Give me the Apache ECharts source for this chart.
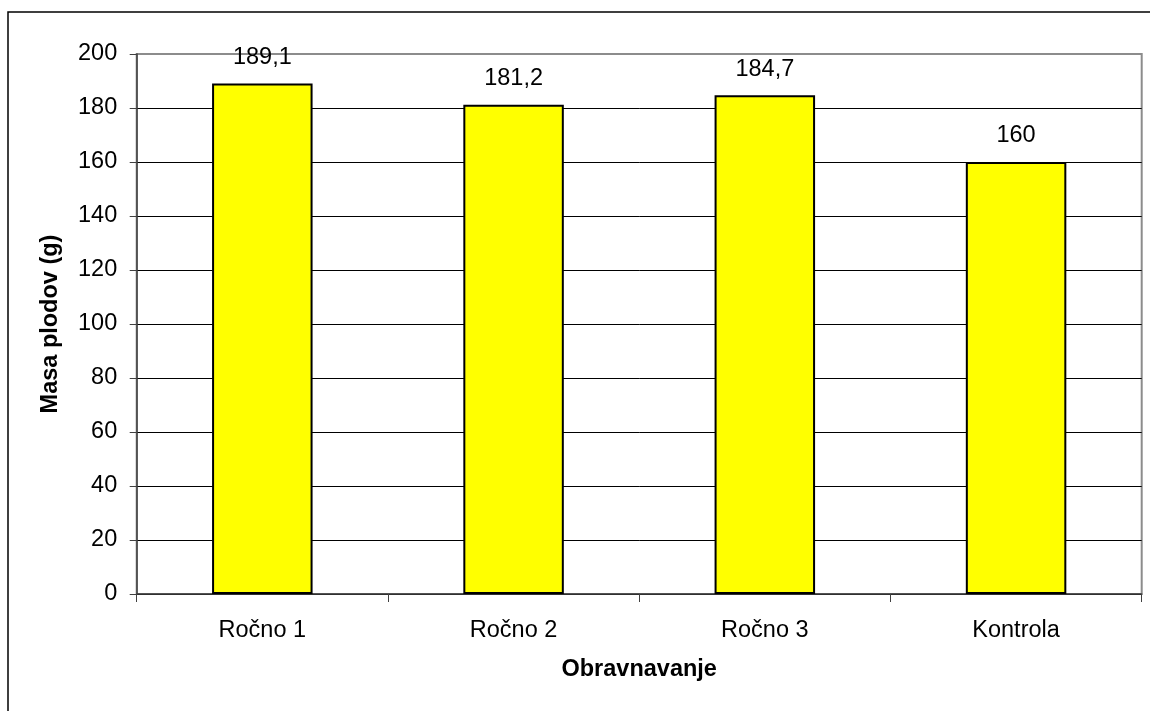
<!DOCTYPE html>
<html>
<head>
<meta charset="utf-8">
<script src="https://cdn.jsdelivr.net/npm/echarts@6/dist/echarts.min.js"></script>
<style>
  html, body { margin: 0; padding: 0; background: #fff; }
  #chart { width: 1150px; height: 711px; }
</style>
</head>
<body>
<div id="chart"></div>
<script>
// Treatments and mean fruit mass (g)
const categories = ['Ročno 1', 'Ročno 2', 'Ročno 3', 'Kontrola'];
const fruitMass = [189.1, 181.2, 184.7, 160];
const yTicks = { min: 0, max: 200, interval: 20 };

const FONT = '"Liberation Sans", Arial, sans-serif';
const FS = 23.5;

const chart = echarts.init(document.getElementById('chart'), null, { renderer: 'canvas' });

chart.setOption({
  animation: false,
  backgroundColor: '#ffffff',
  textStyle: { fontFamily: FONT },
  graphic: [{
    type: 'rect',
    shape: { x: 8, y: 12, width: 1160, height: 720 },
    style: { fill: 'none', stroke: '#000', lineWidth: 1.5 },
    z: -1
  }],
  grid: {
    left: 136.7, right: 8.3, top: 54, bottom: 117,
    show: true, borderColor: '#8c8c8c', borderWidth: 2, backgroundColor: '#fff'
  },
  xAxis: {
    type: 'category',
    data: categories,
    name: 'Obravnavanje',
    nameLocation: 'middle',
    nameGap: 64,
    nameTextStyle: { fontFamily: FONT, fontSize: FS, fontWeight: 'bold', color: '#000' },
    axisLine: { lineStyle: { color: '#404040', width: 1.5 } },
    axisTick: { show: true, length: 8, lineStyle: { color: '#404040', width: 1 } },
    axisLabel: { fontFamily: FONT, fontSize: FS, color: '#000', margin: 25 },
    splitLine: { show: false }
  },
  yAxis: {
    type: 'value',
    min: yTicks.min, max: yTicks.max, interval: yTicks.interval,
    name: 'Masa plodov (g)',
    nameLocation: 'middle',
    nameGap: 74,
    nameTextStyle: { fontFamily: FONT, fontSize: FS, fontWeight: 'bold', color: '#000' },
    axisLine: { show: true, lineStyle: { color: '#404040', width: 1.5 } },
    axisTick: { show: true, length: 7, lineStyle: { color: '#404040', width: 1 } },
    axisLabel: { fontFamily: FONT, fontSize: FS, color: '#000', margin: 19.5 },
    splitLine: { show: true, showMaxLine: false, lineStyle: { color: '#000', width: 1 } }
  },
  series: [{
    type: 'bar',
    data: fruitMass,
    barWidth: '40%',
    itemStyle: { color: '#ffff00', borderColor: '#000', borderWidth: 2 },
    label: {
      show: true,
      position: 'top',
      distance: 14,
      fontFamily: FONT,
      fontSize: FS,
      color: '#000',
      formatter: p => String(p.value).replace('.', ',')
    }
  }]
});
</script>
</body>
</html>
